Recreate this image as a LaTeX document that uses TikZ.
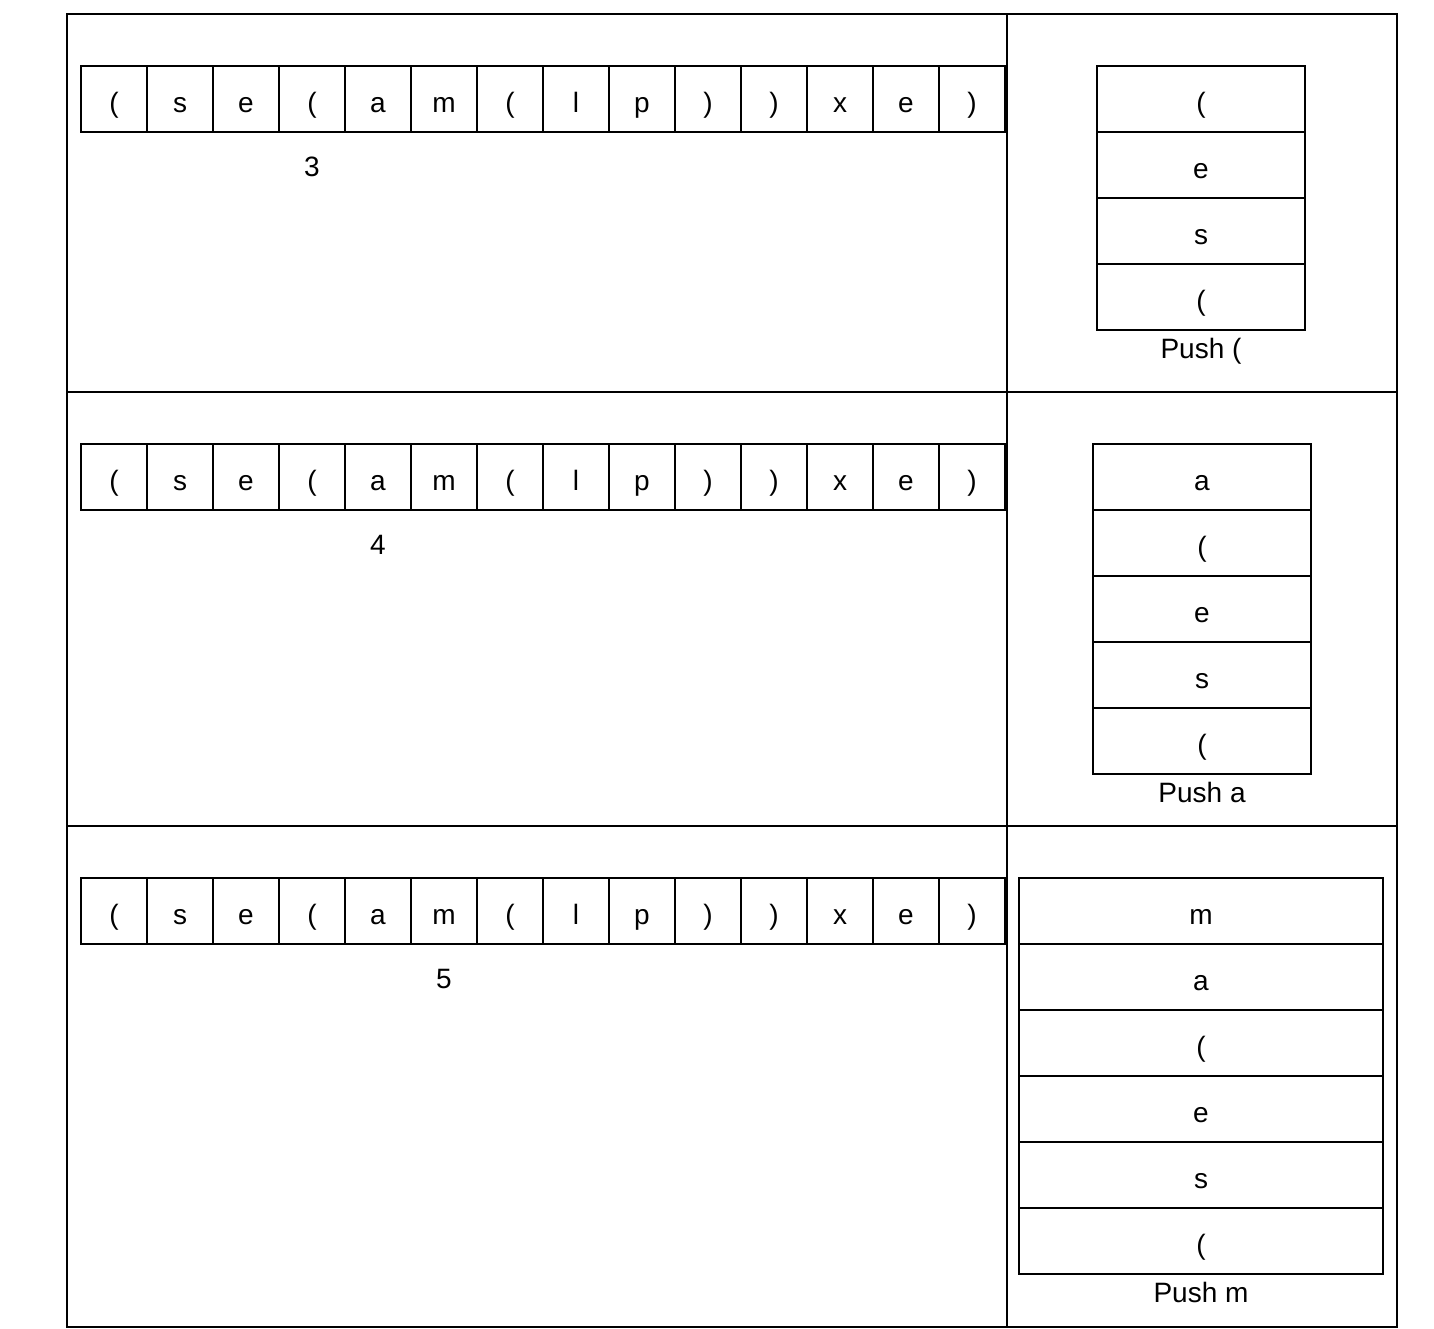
\documentclass[tikz,border=0pt]{standalone}
\usepackage{fontspec}
\setmainfont{Liberation Sans}
\usetikzlibrary{positioning}
\newcommand{\pL}{(}
\newcommand{\pR}{)}

\begin{document}
\begin{tikzpicture}[x=0.5pt, y=-0.5pt, line width=1pt, node distance=33pt]
	\tikzstyle{cell}=[draw=black, outer sep=0pt, inner sep=0pt, minimum width=33pt, minimum height=33pt, text height=17pt, text depth=4pt, font=\fontsize{14}{16}\selectfont]
	\tikzstyle{idxtext}=[inner sep=0pt, font=\fontsize{14}{16}\selectfont]
	\tikzstyle{pushtext}=[inner sep=0pt, text height=13pt, text depth=4pt, font=\fontsize{14}{16}\selectfont]
	\useasboundingbox (0,0) rectangle (1434,1328);
	% table
	\draw (67,14) rectangle (1397,1327);
	\draw (1007,14) -- (1007,1327);
	\draw (67,392) -- (1397,392);
	\draw (67,826) -- (1397,826);
	% strings
	\foreach \r/\y/\k/\n in {1/99/4/3, 2/477/5/4, 3/911/6/5}{
		\foreach \c [count=\i] in {\pL,s,e,\pL,a,m,\pL,l,p,\pR,\pR,x,e,\pR}
			\node[cell] (r\r-\i) at ({48+66*\i},\y) {\c};
		\node[idxtext, node distance=34pt] (idx\r) [below of=r\r-\k] {\n};
	}
	% stacks
	\foreach \c [count=\i] in {\pL,e,s,\pL}
		\node[cell, minimum width=104pt] (sa-\i) at (1201,{99+66*(\i-1)}) {\c};
	\node[pushtext, node distance=26pt] (pusha) [below of=sa-4] {Push (};
	\foreach \c [count=\i] in {a,\pL,e,s,\pL}
		\node[cell, minimum width=109pt] (sb-\i) at (1202,{477+66*(\i-1)}) {\c};
	\node[pushtext, node distance=26pt] (pushb) [below of=sb-5] {Push a};
	\foreach \c [count=\i] in {m,a,\pL,e,s,\pL}
		\node[cell, minimum width=182pt] (sc-\i) at (1201,{911+66*(\i-1)}) {\c};
	\node[pushtext, node distance=26pt] (pushc) [below of=sc-6] {Push m};
\end{tikzpicture}
\end{document}
